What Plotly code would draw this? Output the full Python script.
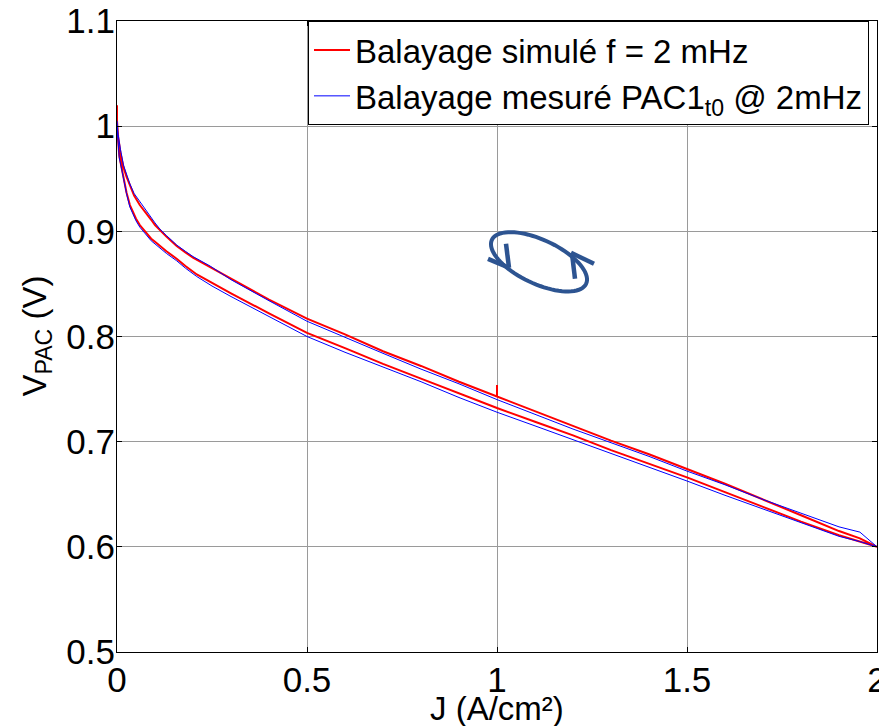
import numpy as np
import plotly.graph_objects as go

# ---------------- data ----------------
# increasing-current branch
J_fwd = [0.0, 0.003, 0.006, 0.009, 0.013, 0.017, 0.025, 0.034, 0.042, 0.05, 0.06, 0.069,
         0.08, 0.09, 0.1, 0.113, 0.13, 0.157, 0.18, 0.21, 0.25, 0.3, 0.4, 0.5, 0.6, 0.7,
         0.8, 0.9, 1.0, 1.1, 1.2, 1.3, 1.4, 1.5, 1.6, 1.7, 1.8, 1.9, 1.955, 2.0]
# decreasing-current branch
J_bwd = [2.0, 1.955, 1.9, 1.8, 1.7, 1.6, 1.5, 1.4, 1.3, 1.2, 1.1, 1.0, 1.0, 1.0, 0.9,
         0.8, 0.7, 0.6, 0.5, 0.4, 0.3, 0.245, 0.2, 0.18, 0.157, 0.13, 0.113, 0.1, 0.09,
         0.08, 0.069, 0.06, 0.045, 0.034, 0.025, 0.017, 0.009, 0.003, 0.0, 0.0]

# simulated sweep (red)
V_sim_fwd = [1.000, 0.981, 0.972, 0.966, 0.958, 0.951, 0.937, 0.925, 0.918, 0.912, 0.906,
             0.902, 0.897, 0.893, 0.890, 0.886, 0.881, 0.874, 0.867, 0.859, 0.851, 0.841,
             0.822, 0.8035, 0.789, 0.774, 0.760, 0.746, 0.732, 0.719, 0.706, 0.692, 0.679,
             0.666, 0.652, 0.638, 0.624, 0.611, 0.605, 0.600]
V_sim_bwd = [0.600, 0.608, 0.615, 0.630, 0.645, 0.660, 0.674, 0.688, 0.701, 0.715, 0.729,
             0.743, 0.754, 0.743, 0.757, 0.772, 0.786, 0.802, 0.817, 0.835, 0.855, 0.866,
             0.875, 0.880, 0.886, 0.895, 0.901, 0.906, 0.911, 0.916, 0.921, 0.925, 0.934,
             0.943, 0.952, 0.961, 0.975, 0.990, 1.005, 1.020]

# measured sweep (blue)
V_mes_fwd = [1.000, 0.979, 0.970, 0.965, 0.957, 0.950, 0.936, 0.923, 0.916, 0.910, 0.904,
             0.900, 0.895, 0.891, 0.888, 0.884, 0.879, 0.872, 0.865, 0.857, 0.848, 0.838,
             0.819, 0.800, 0.785, 0.771, 0.757, 0.742, 0.728, 0.715, 0.702, 0.689, 0.676,
             0.6626, 0.649, 0.636, 0.623, 0.610, 0.605, 0.600]
V_mes_bwd = [0.600, 0.614, 0.619, 0.632, 0.645, 0.659, 0.672, 0.686, 0.699, 0.712, 0.726,
             0.740, 0.740, 0.740, 0.755, 0.769, 0.784, 0.799, 0.8145, 0.834, 0.854, 0.867,
             0.876, 0.881, 0.887, 0.896, 0.902, 0.908, 0.913, 0.918, 0.924, 0.928, 0.936,
             0.945, 0.954, 0.963, 0.978, 0.992, 1.005, 1.005]

name_sim = "Balayage simulé f = 2 mHz"
name_mes = "Balayage mesuré PAC1<sub>t0</sub> @ 2mHz"
x_title = "J (A/cm²)"
y_title = "V<sub>PAC</sub> (V)"

x_ticks = [0, 0.5, 1, 1.5, 2]
y_ticks = [0.5, 0.6, 0.7, 0.8, 0.9, 1.0, 1.1]

FONT = "Liberation Sans, Arial, sans-serif"
FS = 33
FT = 35

fig = go.Figure()
fig.add_trace(go.Scatter(x=J_fwd + J_bwd, y=V_sim_fwd + V_sim_bwd, mode="lines",
                         name=name_sim, line=dict(color="#ff0000", width=2)))
fig.add_trace(go.Scatter(x=J_fwd + J_bwd, y=V_mes_fwd + V_mes_bwd, mode="lines",
                         name=name_mes, line=dict(color="#0000ff", width=1)))

# ---------------- decorative cycle arrow ----------------
# plot-area geometry in the reference picture (pixels)
L, T, PW, PH = 117, 21, 760, 631.5
OFF = 8  # page body margin applied by the browser


def px2d(px, py):
    return ((px - L) / PW * 2.0, 1.1 - (py - T) / PH * 0.6)


cx, cy, a, b, th = 539, 262, 52, 22, np.deg2rad(25)
t = np.linspace(0, 2 * np.pi, 80)
ex = cx + a * np.cos(t) * np.cos(th) - b * np.sin(t) * np.sin(th)
ey = cy + a * np.cos(t) * np.sin(th) + b * np.sin(t) * np.cos(th)
pts = [px2d(u, v) for u, v in zip(ex, ey)]
path = "M " + " L ".join(f"{p[0]:.5f},{p[1]:.5f}" for p in pts) + " Z"
ARC = "#2d5491"
fig.add_shape(type="path", path=path, xref="x", yref="y",
              line=dict(color=ARC, width=4))
for (x0, y0, x1, y1) in [(506, 244, 509, 268), (488, 259, 509, 268),
                         (575, 279, 572, 254), (571, 253, 594, 264)]:
    p0 = px2d(x0, y0)
    p1 = px2d(x1, y1)
    fig.add_shape(type="line", x0=p0[0], y0=p0[1], x1=p1[0], y1=p1[1],
                  xref="x", yref="y", line=dict(color=ARC, width=4.5))

axis_common = dict(showline=True, linecolor="black", linewidth=1, mirror="ticks",
                   ticks="inside", ticklen=5, tickcolor="black", automargin=False,
                   ticklabeloverflow="allow",
                   showgrid=True, gridcolor="#9a9a9a", gridwidth=1, zeroline=False,
                   tickfont=dict(family=FONT, size=FT, color="black"))

fig.update_xaxes(range=[0, 2], tickvals=x_ticks, ticklabelstandoff=-3, **axis_common)
fig.update_yaxes(range=[0.5, 1.1], tickvals=y_ticks, ticklabelstandoff=-6, **axis_common)

# axis titles placed as annotations for exact positioning
fig.add_annotation(text=x_title, xref="paper", yref="paper", x=0.5, y=0,
                   xanchor="center", yanchor="middle", yshift=-(709 - (T + PH)),
                   showarrow=False, font=dict(family=FONT, size=FS, color="black"))
fig.add_annotation(text=y_title, xref="paper", yref="paper", x=0, y=0.5,
                   xanchor="center", yanchor="middle", xshift=-(L - 36), textangle=-90,
                   showarrow=False, font=dict(family=FONT, size=FS, color="black"))

W, H = 887, 726
ml, mt = L - OFF, T - OFF
fig.update_layout(
    width=W, height=H,
    margin=dict(l=ml, r=W - ml - PW, t=mt, b=H - mt - PH, autoexpand=False),
    plot_bgcolor="white", paper_bgcolor="white",
    font=dict(family=FONT, size=FS, color="black"),
    showlegend=True,
    legend=dict(x=1.0 - 8 / PW, y=1.0, xanchor="right", yanchor="top",
                bgcolor="white", bordercolor="black", borderwidth=1,
                font=dict(family=FONT, size=FS, color="black"),
                tracegroupgap=0, itemwidth=36),
)

fig.write_html("out.html")
